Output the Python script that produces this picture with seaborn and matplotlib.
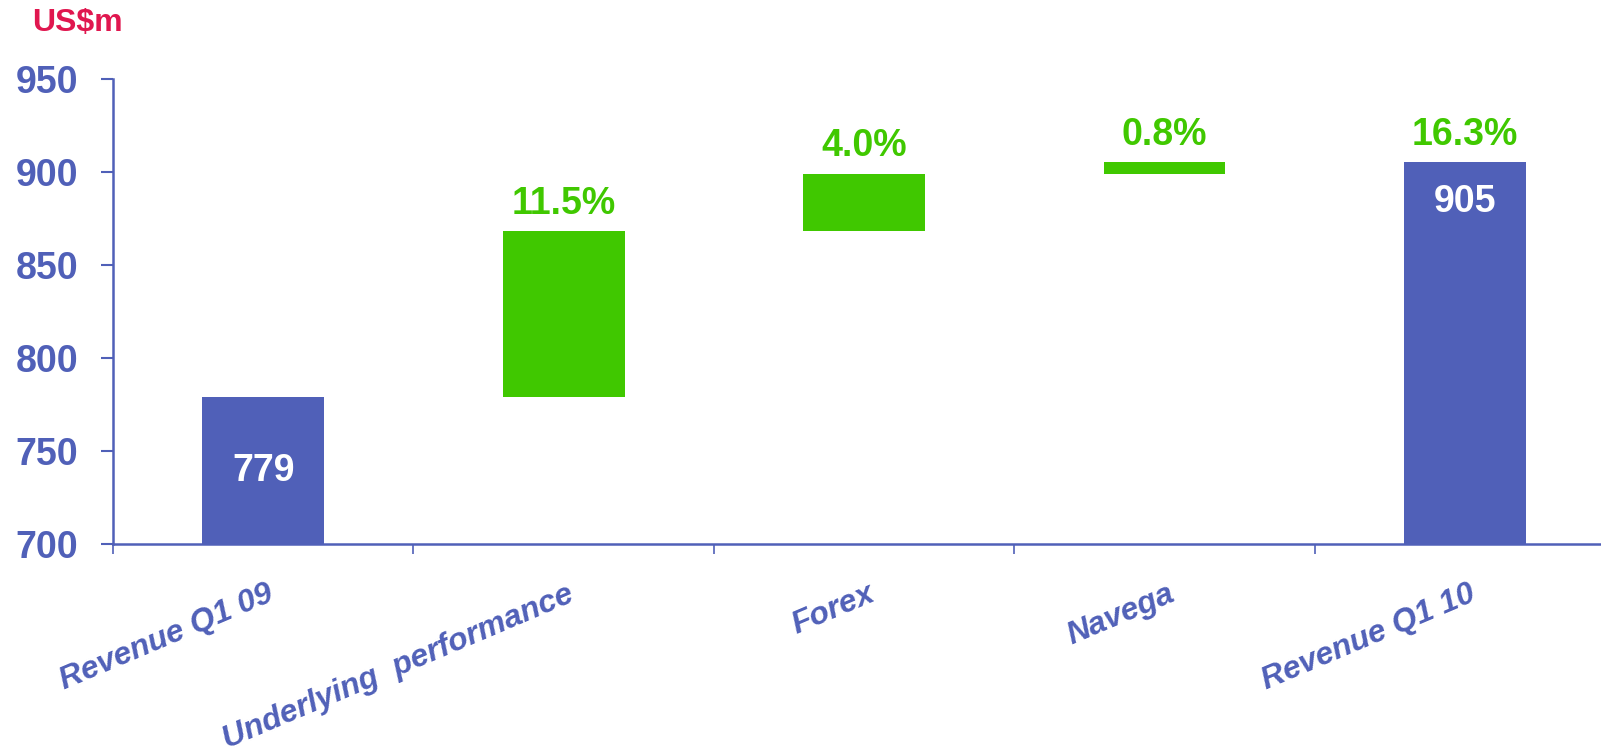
import matplotlib
matplotlib.use("Agg")
import matplotlib.pyplot as plt
import matplotlib.transforms as mtransforms
import seaborn as sns
import numpy as np

categories = ["Revenue Q1 09", "Underlying  performance", "Forex", "Navega", "Revenue Q1 10"]
bottoms = [700, 779, 868, 899, 700]
tops = [779, 868, 899, 905, 905]
kinds = ["total", "step", "step", "step", "total"]
pct_labels = ["", "11.5%", "4.0%", "0.8%", "16.3%"]
value_labels = ["779", "", "", "", "905"]
yticks = [700, 750, 800, 850, 900, 950]

BLUE = "#5060B8"
GREEN = "#40C800"
RED = "#E0174F"

sns.set_theme(style="white")
plt.rcParams["font.family"] = ["Liberation Sans", "DejaVu Sans"]
plt.rcParams["font.weight"] = "bold"

fig = plt.figure(figsize=(16.01, 7.54), dpi=100)
ax = fig.add_axes([0.0706, 0.2779, 0.9383, 0.6179])

sns.barplot(x=categories, y=tops, ax=ax, color=BLUE, width=0.405,
            saturation=1, errorbar=None, edgecolor="none", linewidth=0)
for patch, b, t, k in zip(ax.patches, bottoms, tops, kinds):
    patch.set_y(b)
    patch.set_height(t - b)
    patch.set_facecolor(BLUE if k == "total" else GREEN)

ax.set_xlim(-0.5, len(categories) - 0.5)
ax.set_ylim(700, 950)
ax.set_yticks(yticks)
ax.set_yticklabels([str(v) for v in yticks])

for side in ["top", "right"]:
    ax.spines[side].set_visible(False)
for side in ["left", "bottom"]:
    ax.spines[side].set_color(BLUE)
    ax.spines[side].set_linewidth(1.8)

ax.tick_params(axis="y", direction="out", length=9, width=1.5, color=BLUE,
               labelcolor=BLUE, labelsize=27, pad=16, left=True)
for lab in ax.get_yticklabels():
    lab.set_fontweight("bold")

ax.set_xticks(range(len(categories)))
ax.set_xticklabels(categories)
ax.set_xticks(np.arange(-0.5, len(categories), 1.0), minor=True)
ax.tick_params(axis="x", which="major", length=0, pad=25, labelsize=23, labelcolor=BLUE)
ax.tick_params(axis="x", which="minor", direction="out", length=7, width=1.2,
               color=BLUE, bottom=True)
offset = mtransforms.ScaledTranslation(3 / 100, 0, fig.dpi_scale_trans)
for lab in ax.get_xticklabels():
    lab.set_rotation(23)
    lab.set_rotation_mode("anchor")
    lab.set_ha("right")
    lab.set_va("top")
    lab.set_fontstyle("italic")
    lab.set_fontweight("bold")
    lab.set_transform(lab.get_transform() + offset)

ax.set_xlabel("")
ax.set_ylabel("")

for i, (b, t, k) in enumerate(zip(bottoms, tops, kinds)):
    if pct_labels[i]:
        ax.annotate(pct_labels[i], xy=(i, t), xytext=(0, 7), textcoords="offset points",
                    ha="center", va="bottom", fontsize=27, fontweight="bold", color=GREEN)
    if value_labels[i]:
        y = (ax.get_ylim()[0] + t) / 2 if i == 0 else t - 21
        ax.text(i, y, value_labels[i], ha="center", va="center", fontsize=27,
                fontweight="bold", color="white")

fig.text(0.02, 0.969, "US$m", ha="left", va="center", fontsize=23,
         fontweight="bold", color=RED)

fig.savefig("out.png", dpi=100)
